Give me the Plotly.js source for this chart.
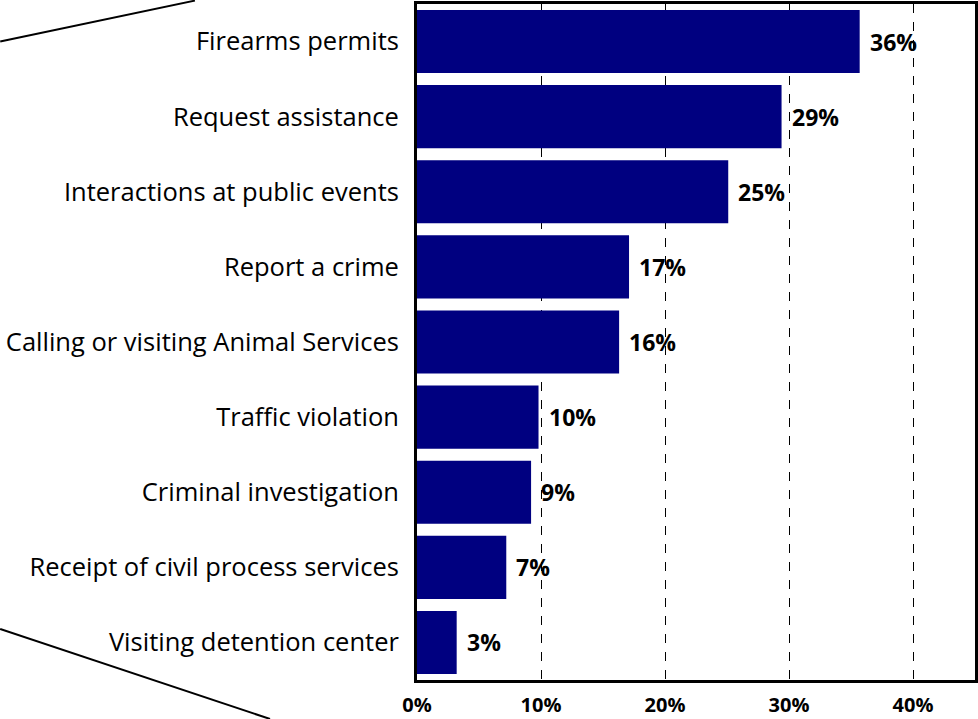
<!DOCTYPE html>
<html>
<head>
<meta charset="utf-8">
<script src="https://cdn.plot.ly/plotly-3.0.1.min.js"></script>
<style>html,body{margin:0;padding:0;background:#fff;}#chart{width:978px;height:719px;}</style>
</head>
<body>
<div id="chart"></div>
<script>
const categories = [
  "Firearms permits",
  "Request assistance",
  "Interactions at public events",
  "Report a crime",
  "Calling or visiting Animal Services",
  "Traffic violation",
  "Criminal investigation",
  "Receipt of civil process services",
  "Visiting detention center"
];
const values = [35.7, 29.4, 25.1, 17.1, 16.3, 9.8, 9.2, 7.2, 3.2];
const valueLabels = ["36%", "29%", "25%", "17%", "16%", "10%", "9%", "7%", "3%"];
const tickVals = [0, 10, 20, 30, 40];
const tickText = ["0%", "10%", "20%", "30%", "40%"];

const trace = {
  type: "bar",
  orientation: "h",
  y: categories,
  x: values,
  marker: {color: "#000080", line: {width: 0}},
  hoverinfo: "none"
};

const annotations = categories.map((c, i) => ({
  x: values[i], y: c, xref: "x", yref: "y",
  text: "<b>" + valueLabels[i] + "</b>",
  showarrow: false, xanchor: "left", xshift: 8,
  font: {family: "'Open Sans', sans-serif", size: 23, color: "#000"}
}));

const layout = {
  width: 978, height: 719,
  margin: {l: 417, r: 3, t: 4, b: 39, pad: 0},
  paper_bgcolor: "#fff", plot_bgcolor: "#fff",
  bargap: 0.16,
  showlegend: false,
  xaxis: {
    range: [0, 45],
    tickvals: tickVals, ticktext: tickText,
    tickfont: {family: "'Open Sans', sans-serif", size: 20, color: "#000", weight: "bold"},
    showgrid: true, gridcolor: "#000", gridwidth: 1, griddash: "dash",
    zeroline: false,
    showline: true, linecolor: "#000", linewidth: 3, mirror: true,
    ticks: "", ticklabelstandoff: 5
  },
  yaxis: {
    autorange: "reversed",
    tickfont: {family: "'Open Sans', sans-serif", size: 25.5, color: "#000"},
    showgrid: false, zeroline: false,
    showline: true, linecolor: "#000", linewidth: 3, mirror: true,
    ticks: "", ticklabelstandoff: 10
  },
  annotations: annotations,
  shapes: [
    {type: "line", xref: "paper", yref: "paper", x0: -0.747, y0: 0.9446, x1: -0.398, y1: 1.005, line: {color: "#000", width: 2}},
    {type: "line", xref: "paper", yref: "paper", x0: -0.747, y0: 0.0754, x1: -0.2634, y1: -0.0576, line: {color: "#000", width: 2}}
  ]
};

Plotly.newPlot("chart", [trace], layout, {displayModeBar: false, staticPlot: true});
</script>
</body>
</html>
